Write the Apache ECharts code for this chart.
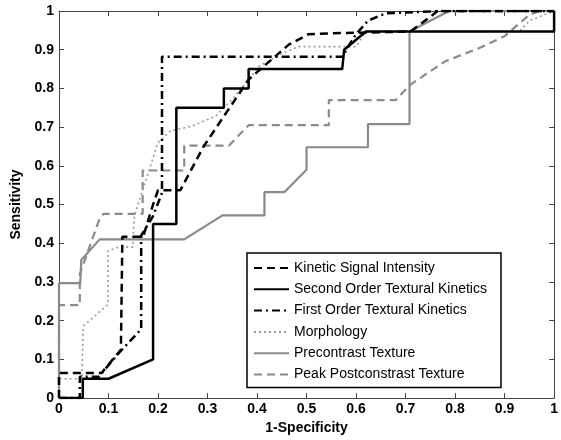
<!DOCTYPE html>
<html>
<head>
<meta charset="utf-8">
<script src="https://cdn.jsdelivr.net/npm/echarts@6/dist/echarts.min.js"></script>
<style>html,body{margin:0;padding:0;background:#fff;}#c{width:561px;height:440px;}</style>
</head>
<body>
<div id="c"></div>
<script>
var tickValues = [0, 0.1, 0.2, 0.3, 0.4, 0.5, 0.6, 0.7, 0.8, 0.9, 1];
var seriesNames = ['Kinetic Signal Intensity', 'Second Order Textural Kinetics', 'First Order Textural Kinetics', 'Morphology', 'Precontrast Texture', 'Peak Postconstrast Texture'];

var kineticSI = [[0,0],[0,0.065],[0.086,0.065],[0.125,0.125],[0.128,0.417],[0.17,0.417],[0.19,0.5],[0.2,0.537],[0.245,0.537],[0.293,0.652],[0.363,0.785],[0.383,0.823],[0.464,0.913],[0.504,0.94],[0.57,0.943],[0.71,0.947],[0.765,1],[1,1]];
var secondOrder = [[0,0],[0.048,0],[0.048,0.05],[0.1,0.05],[0.19,0.1],[0.19,0.45],[0.237,0.45],[0.237,0.75],[0.333,0.75],[0.333,0.8],[0.383,0.8],[0.383,0.85],[0.572,0.85],[0.576,0.9],[0.62,0.947],[1,0.947],[1,1]];
var firstOrder = [[0,0],[0.042,0],[0.042,0.055],[0.08,0.055],[0.122,0.118],[0.166,0.178],[0.166,0.42],[0.19,0.47],[0.208,0.53],[0.208,0.882],[0.574,0.882],[0.58,0.9],[0.6,0.94],[0.624,0.975],[0.66,0.994],[0.77,1],[1,1]];
var morphology = [[0,0],[0,0.05],[0.046,0.05],[0.049,0.186],[0.099,0.242],[0.099,0.38],[0.12,0.39],[0.149,0.39],[0.152,0.47],[0.2,0.66],[0.225,0.69],[0.27,0.703],[0.317,0.729],[0.35,0.772],[0.383,0.823],[0.404,0.857],[0.45,0.89],[0.484,0.908],[0.6,0.908],[0.62,0.947],[0.93,0.947],[0.95,0.975],[1,1]];
var precontrast = [[0,0],[0,0.297],[0.043,0.297],[0.045,0.357],[0.082,0.41],[0.253,0.41],[0.33,0.472],[0.415,0.472],[0.415,0.532],[0.455,0.532],[0.5,0.59],[0.5,0.648],[0.624,0.648],[0.624,0.708],[0.708,0.708],[0.708,0.947],[0.788,1],[1,1]];
var peakPost = [[0,0],[0,0.24],[0.042,0.24],[0.042,0.32],[0.082,0.464],[0.09,0.476],[0.169,0.476],[0.169,0.588],[0.253,0.588],[0.253,0.652],[0.343,0.652],[0.383,0.705],[0.545,0.705],[0.545,0.77],[0.68,0.77],[0.71,0.81],[0.78,0.87],[0.85,0.905],[0.9,0.935],[0.95,0.99],[0.97,1],[1,1]];

var FONT = 'Liberation Sans, Arial, sans-serif';
var frameColor = '#444';

function axisBase(extra) {
  var a = {
    type: 'value', min: 0, max: 1, interval: 0.1,
    axisLine: { show: true, onZero: false, lineStyle: { color: frameColor, width: 1 } },
    axisTick: { show: true, inside: true, length: 5, lineStyle: { color: frameColor } },
    splitLine: { show: false },
    axisLabel: { show: true, color: '#000', fontFamily: FONT, fontSize: 14, fontWeight: 'bold' }
  };
  for (var k in extra) a[k] = extra[k];
  return a;
}

function mk(name, data, color, width, type, z) {
  return {
    name: name, type: 'line', data: data, showSymbol: false, symbol: 'none',
    xAxisIndex: 0, yAxisIndex: 0, z: z, animation: false,
    lineStyle: { color: color, width: width, type: type },
    itemStyle: { color: color }
  };
}

var chart = echarts.init(document.getElementById('c'), null, { renderer: 'canvas' });
chart.setOption({
  animation: false,
  backgroundColor: '#fff',
  grid: { left: 59, right: 4, top: 11, bottom: 39, containLabel: false },
  xAxis: [
    axisBase({ position: 'bottom', name: '1-Specificity', nameLocation: 'middle', nameGap: 21,
      nameTextStyle: { color: '#000', fontFamily: FONT, fontSize: 14, fontWeight: 'bold' },
      axisLabel: { show: true, margin: 4, color: '#000', fontFamily: FONT, fontSize: 14, fontWeight: 'bold' } }),
    axisBase({ position: 'top', axisLabel: { show: false } })
  ],
  yAxis: [
    axisBase({ position: 'left', name: 'Sensitivity', nameLocation: 'middle', nameGap: 28,
      nameTextStyle: { color: '#000', fontFamily: FONT, fontSize: 14, fontWeight: 'bold' },
      axisLabel: { show: true, margin: 5, color: '#000', fontFamily: FONT, fontSize: 14, fontWeight: 'bold' } }),
    axisBase({ position: 'right', axisLabel: { show: false } })
  ],
  legend: {
    show: true, orient: 'vertical', left: 247, top: 253,
    data: seriesNames,
    backgroundColor: '#fff', borderColor: '#000', borderWidth: 1.5,
    padding: [8, 14, 6, 6],
    itemWidth: 35, itemHeight: 14, itemGap: 7.3,
    itemStyle: { opacity: 0 },
    textStyle: { color: '#000', fontFamily: FONT, fontSize: 14 }
  },
  series: [
    mk(seriesNames[4], precontrast, '#8a8a8a', 2.2, 'solid', 2),
    mk(seriesNames[5], peakPost, '#8a8a8a', 2.2, [8, 5], 3),
    mk(seriesNames[3], morphology, '#9a9a9a', 1.6, [2, 3], 4),
    mk(seriesNames[0], kineticSI, '#000', 2.5, [8, 5], 6),
    mk(seriesNames[2], firstOrder, '#000', 2.5, [8, 4, 2, 4], 5),
    mk(seriesNames[1], secondOrder, '#000', 2.5, 'solid', 7)
  ]
});
</script>
</body>
</html>
